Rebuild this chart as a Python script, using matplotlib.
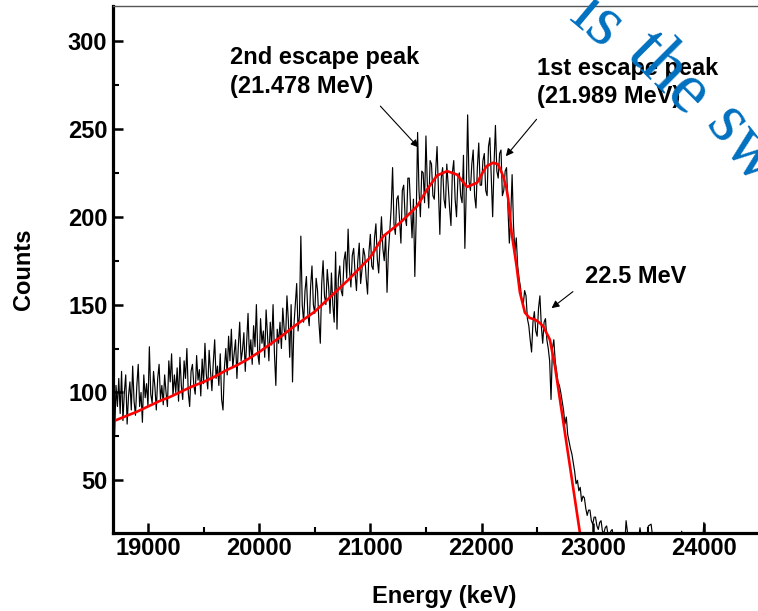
import matplotlib.pyplot as plt
import numpy as np

# measured spectrum, 12.5 keV per channel from 18700 keV to 23287.5 keV
e_start = 18700
e_step = 12.5
counts = [
    # 18700 - 19187.5
    75, 104, 92, 108, 88, 112, 84, 100, 110, 82, 98, 106, 90, 115, 95, 87, 104, 116, 92, 100,
    83, 110, 97, 105, 92, 126, 99, 94, 112, 103, 90, 108, 116, 96, 104, 93, 110, 100, 92, 118,
    # 19200 - 19687.5
    106, 122, 98, 110, 100, 114, 95, 120, 104, 96, 118, 108, 125, 100, 92, 112, 116, 104, 99, 121,
    107, 113, 98, 119, 105, 128, 110, 102, 124, 112, 101, 117, 130, 108, 115, 104, 122, 96, 90, 114,
    # 19700 - 20187.5
    125, 110, 132, 118, 136, 114, 122, 130, 108, 126, 140, 118, 124, 134, 112, 128, 145, 120, 130, 116,
    138, 126, 150, 122, 116, 142, 128, 135, 120, 147, 132, 118, 140, 127, 150, 122, 104, 136, 128, 140,
    # 20200 - 20687.5
    125, 148, 136, 130, 155, 141, 120, 150, 106, 138, 150, 162, 135, 144, 189, 150, 140, 158, 166, 145,
    138, 160, 172, 150, 145, 165, 158, 140, 128, 162, 175, 155, 150, 170, 160, 145, 168, 150, 140, 180,
    # 20700 - 21187.5
    136, 165, 172, 158, 155, 175, 180, 165, 193, 170, 160, 178, 182, 168, 158, 175, 185, 162, 170, 182,
    178, 165, 156, 180, 190, 172, 170, 188, 196, 176, 168, 185, 200, 182, 175, 190, 157, 180, 192, 205,
    # 21200 - 21687.5
    228, 196, 190, 210, 212, 198, 185, 215, 218, 200, 195, 222, 222, 205, 188, 210, 166, 200, 248, 215,
    200, 226, 225, 208, 246, 218, 205, 232, 230, 212, 210, 226, 240, 215, 190, 222, 228, 210, 205, 230,
    # 21700 - 22187.5
    218, 205, 195, 225, 232, 210, 200, 222, 225, 212, 208, 235, 182, 215, 258, 220, 215, 230, 238, 212,
    205, 228, 242, 218, 218, 232, 236, 215, 212, 240, 245, 222, 200, 230, 252, 226, 222, 236, 238, 212,
    # 22200 - 22687.5
    215, 226, 228, 205, 185, 200, 224, 195, 180, 188, 172, 165, 160, 152, 150, 158, 155, 142, 138, 130,
    123, 140, 146, 135, 132, 148, 155, 138, 128, 140, 142, 130, 125, 118, 96, 125, 130, 118, 112, 106,
    # 22700 - 23187.5
    104, 100, 95, 90, 82, 86, 76, 72, 68, 65, 60, 55, 48, 50, 44, 46, 38, 41, 40, 34,
    30, 33, 33, 27, 25, 29, 29, 24, 22, 26, 27, 21, 20, 23, 24, 19, 18, 21, 22, 17,
    # 23200 - 23287.5
    15, 18, 19, 14, 12, 17, 16, 13,
]
# sparse tail, 25 keV per point from 23300 keV
tail_start = 23300
tail_step = 25
tail_counts = [
    27, 14, 10, 13, 11, 23, 12, 9, 24, 25, 12, 8, 10, 7, 11, 6, 8, 5, 9, 6,
    21, 7, 5, 8, 4, 6, 9, 5, 26, 7, 4, 6, 3, 5, 7, 4, 5, 3, 6, 4,
    2, 5, 3, 4, 2, 5, 3, 4,
]
energy = np.concatenate([e_start + e_step * np.arange(len(counts)),
                         tail_start + tail_step * np.arange(len(tail_counts))])
all_counts = np.array(counts + tail_counts)

# fitted response (red curve)
fit_e = [18685, 18800, 18900, 19000, 19100, 19200, 19300, 19400, 19500, 19600,
         19700, 19800, 19900, 20000, 20100, 20200, 20300, 20400, 20500, 20600,
         20700, 20800, 20900, 21000, 21117, 21270, 21420, 21510, 21600, 21690,
         21780, 21870, 21960, 21985, 22045, 22105, 22150, 22195, 22225, 22240,
         22270, 22315, 22345, 22390, 22430, 22480, 22525, 22555, 22615, 22660,
         22705, 22750, 22795, 22840, 22885]
fit_c = [83.5, 86.5, 89, 92, 95, 97.5, 100.5, 103.5, 106, 109,
         112.5, 115.5, 119, 123, 127.5, 132, 137, 141.5, 146, 152,
         158, 164, 170.5, 177, 189, 196.7, 206, 215.5, 223.5, 226,
         224, 217, 219.4, 222.4, 228.8, 230.8, 229.8, 223, 216, 210,
         191, 172, 157, 145.5, 142.5, 141.5, 139.5, 137.6, 130, 115,
         96, 77, 58, 39, 20]

fig = plt.figure(figsize=(7.58, 6.11), dpi=100)
ax = fig.add_axes([0.149, 0.1277, 0.875, 0.8625])

ax.plot(energy, all_counts, color='black', lw=0.85)
ax.plot(fit_e, fit_c, color='#ff0000', lw=1.9)

ax.set_xlim(18685, 24650)
ax.set_ylim(20, 320)
ax.set_xticks([19000, 20000, 21000, 22000, 23000, 24000])
ax.set_xticks(np.arange(19500, 24600, 1000), minor=True)
ax.set_yticks([50, 100, 150, 200, 250, 300])
ax.set_yticks([75, 125, 175, 225, 275], minor=True)

for side in ['left', 'bottom']:
    ax.spines[side].set_linewidth(2.3)
ax.spines['top'].set_linewidth(1.0)
ax.spines['top'].set_color('#555555')
ax.spines['right'].set_visible(False)

ax.tick_params(which='major', direction='in', length=7, width=1.8,
               labelsize=17, pad=4)
ax.tick_params(axis='x', which='major', pad=3)
ax.tick_params(which='minor', direction='in', length=4, width=1.5)
ax.tick_params(top=False, right=False, which='both')
for lab in ax.get_xticklabels() + ax.get_yticklabels():
    lab.set_fontfamily('Liberation Sans')
    lab.set_fontweight('bold')

ax.set_xlabel('Energy (keV)', fontsize=17, fontweight='bold',
              fontfamily='Liberation Sans', labelpad=18)
ax.set_ylabel('Counts', fontsize=17, fontweight='bold',
              fontfamily='Liberation Sans', labelpad=24)

txt = dict(fontsize=17, fontweight='bold', fontfamily='Liberation Sans',
           va='center', ha='left', linespacing=1.3)
ax.text(19739, 282.5, '2nd escape peak\n(21.478 MeV)', **txt)
ax.text(22495, 276.6, '1st escape peak\n(21.989 MeV)', **txt)
ax.text(22930, 166, '22.5 MeV', **txt)

arr = dict(arrowstyle='-|>', color='black', lw=0.8, mutation_scale=11,
           shrinkA=0, shrinkB=0)
ax.annotate('', xy=(21432, 239.5), xytext=(21090, 263), arrowprops=arr)
ax.annotate('', xy=(22219, 234.5), xytext=(22495, 255.5), arrowprops=arr)
ax.annotate('', xy=(22630, 148), xytext=(22822, 157.4), arrowprops=arr)

# watermark
wm = dict(fontsize=52, color='#0070C0', fontfamily='Liberation Serif',
          ha='center', va='center', rotation_mode='anchor', zorder=10)
fig.text(597 / 758, 1 - 22 / 611, 'is', rotation=-40, **wm)
fig.text(668 / 758, 1 - 74 / 611, 'the', rotation=-45, **wm)
fig.text(742 / 758, 1 - 146 / 611, 'sw', rotation=-52, **wm)

fig.savefig('out.png', dpi=100)
